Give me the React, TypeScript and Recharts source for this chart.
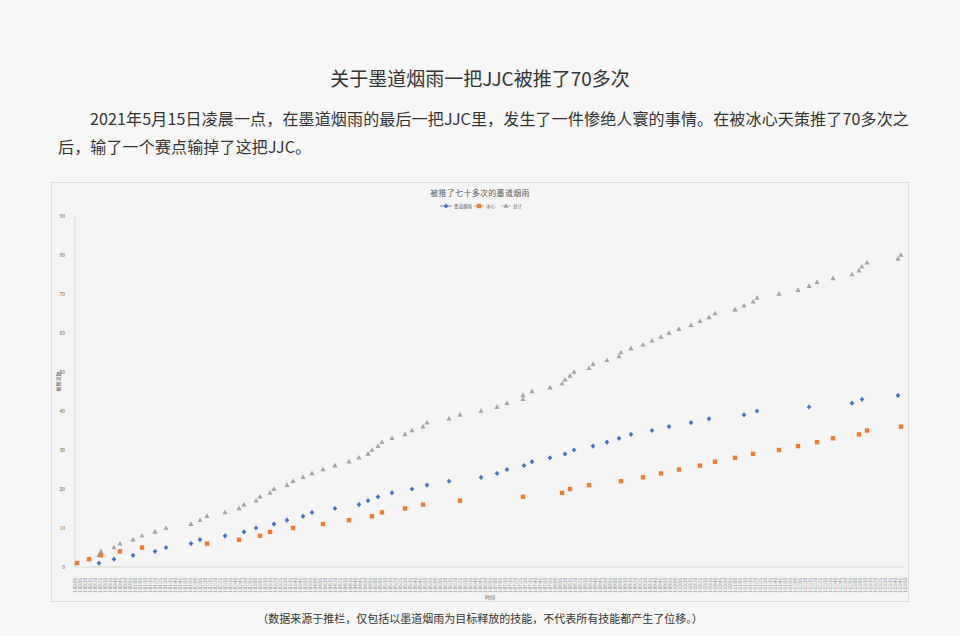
import { Scatter, ScatterChart, XAxis, YAxis } from "recharts";

// series names as shown in the legend
const seriesNames = ["墨道烟雨", "冰心", "总计"];

// event times (seconds since 1:00:00) and cumulative counts
const moTimes = [24, 39, 58, 80, 91, 116, 125, 150, 169, 181, 199, 212, 228, 237, 260, 284, 293, 303, 317, 337, 352, 374, 406, 422, 432, 449, 457, 475, 490, 499, 518, 532, 544, 556, 577, 594, 616, 634, 669, 682, 734, 777, 787, 823];
const moCounts = [1, 2, 3, 4, 5, 6, 7, 8, 9, 10, 11, 12, 13, 14, 15, 16, 17, 18, 19, 20, 21, 22, 23, 24, 25, 26, 27, 28, 29, 30, 31, 32, 33, 34, 35, 36, 37, 38, 39, 40, 41, 42, 43, 44];

const bxTimes = [2, 14, 26, 45, 67, 132, 164, 185, 195, 218, 248, 274, 297, 307, 330, 348, 385, 448, 487, 495, 514, 546, 568, 586, 604, 625, 640, 660, 678, 704, 723, 742, 758, 784, 792, 826];
const bxCounts = [1, 2, 3, 4, 5, 6, 7, 8, 9, 10, 11, 12, 13, 14, 15, 16, 17, 18, 19, 20, 21, 22, 23, 24, 25, 26, 27, 28, 29, 30, 31, 32, 33, 34, 35, 36];

const totalTimes = [2, 14, 24, 26, 39, 45, 58, 67, 80, 91, 116, 125, 132, 150, 164, 169, 181, 185, 195, 199, 212, 218, 228, 237, 248, 260, 274, 284, 293, 297, 303, 307, 317, 330, 337, 348, 352, 374, 385, 406, 422, 432, 448, 448, 457, 475, 487, 490, 495, 499, 514, 518, 532, 544, 546, 556, 568, 577, 586, 594, 604, 616, 625, 634, 640, 660, 669, 678, 682, 704, 723, 734, 742, 758, 777, 784, 787, 792, 823, 826];
const totalCounts = [1, 2, 3, 4, 5, 6, 7, 8, 9, 10, 11, 12, 13, 14, 15, 16, 17, 18, 19, 20, 21, 22, 23, 24, 25, 26, 27, 28, 29, 30, 31, 32, 33, 34, 35, 36, 37, 38, 39, 40, 41, 42, 43, 44, 45, 46, 47, 48, 49, 50, 51, 52, 53, 54, 55, 56, 57, 58, 59, 60, 61, 62, 63, 64, 65, 66, 67, 68, 69, 70, 71, 72, 73, 74, 75, 76, 77, 78, 79, 80];

const yTicks = [0, 10, 20, 30, 40, 50, 60, 70, 80, 90];
const xTicks = Array.from({ length: 167 }, (_, i) => i * 5);

const BLUE = "#4472c4";
const ORANGE = "#ed7d31";
const GRAY = "#a5a5a5";
const FONT = '"Noto Sans CJK SC", "Noto Sans", sans-serif';

const toPoints = (times: number[], counts: number[]) => times.map((t, i) => ({ t, v: counts[i] }));

const fmtTime = (s: number) => {
	const m = Math.floor(s / 60);
	const ss = s % 60;
	return `1:${String(m).padStart(2, "0")}:${String(ss).padStart(2, "0")}`;
};

const Diamond = (props: any) => {
	const { cx, cy } = props;
	return <polygon points={`${cx},${cy - 2.6} ${cx + 2.3},${cy} ${cx},${cy + 2.6} ${cx - 2.3},${cy}`} fill={BLUE} />;
};

const Square = (props: any) => {
	const { cx, cy } = props;
	return <rect x={cx - 2.2} y={cy - 2.2} width={4.4} height={4.4} fill={ORANGE} />;
};

const Triangle = (props: any) => {
	const { cx, cy } = props;
	return <polygon points={`${cx},${cy - 2.8} ${cx + 2.6},${cy + 1.8} ${cx - 2.6},${cy + 1.8}`} fill={GRAY} />;
};

const TimeTick = (props: any) => {
	const { x, y, payload } = props;
	return (
		<text
			x={0}
			y={0}
			transform={`translate(${x},${y + 3}) rotate(-90)`}
			textAnchor="end"
			dominantBaseline="central"
			fontSize={4.5}
			fill="#8c8c8c"
		>
			{fmtTime(payload.value)}
		</text>
	);
};

// legend in the chart frame, drawn in svg so the tiny text is kept
const ChartLegend = () => {
	const items = [
		{ name: seriesNames[0], color: BLUE, x: 388, w: 12 },
		{ name: seriesNames[1], color: ORANGE, x: 422, w: 10 },
		{ name: seriesNames[2], color: GRAY, x: 449, w: 10 },
	];
	const y = 23;
	return (
		<svg width={856} height={40} style={{ position: "absolute", left: 0, top: 0 }}>
			{items.map((it, i) => {
				const mx = it.x + it.w / 2;
				return (
					<g key={it.name}>
						<line x1={it.x} x2={it.x + it.w} y1={y} y2={y} stroke={it.color} strokeWidth={0.8} />
						{i === 0 && <Diamond cx={mx} cy={y} />}
						{i === 1 && <Square cx={mx} cy={y} />}
						{i === 2 && <Triangle cx={mx} cy={y} />}
						<text x={it.x + it.w + 2} y={y} dominantBaseline="central" fontSize={4.5} fill="#595959" fontFamily={FONT}>
							{it.name}
						</text>
					</g>
				);
			})}
		</svg>
	);
};

const App = () => {
	return (
		<div
			style={{
				position: "absolute",
				left: 0,
				top: 0,
				width: 960,
				height: 636,
				background: "#f7f7f7",
				overflow: "hidden",
				fontFamily: FONT,
				color: "#333",
			}}
		>
			<div style={{ position: "absolute", top: 65, left: 0, width: 960, textAlign: "center", fontSize: 19, lineHeight: "26px" }}>
				关于墨道烟雨一把JJC被推了70多次
			</div>
			<div style={{ position: "absolute", top: 104, left: 90, fontSize: 16, lineHeight: "28px", whiteSpace: "nowrap", letterSpacing: 0.15 }}>
				2021年5月15日凌晨一点，在墨道烟雨的最后一把JJC里，发生了一件惨绝人寰的事情。在被冰心天策推了70多次之
			</div>
			<div style={{ position: "absolute", top: 132, left: 58, fontSize: 16, lineHeight: "28px", whiteSpace: "nowrap", letterSpacing: 0.15 }}>
				后，输了一个赛点输掉了这把JJC。
			</div>

			<div
				style={{
					position: "absolute",
					left: 52,
					top: 183,
					width: 856,
					height: 418,
					background: "#f5f5f5",
					outline: "1px solid #dedede",
				}}
			>
				<div
					style={{
						position: "absolute",
						top: 4,
						left: 0,
						width: 856,
						textAlign: "center",
						fontSize: 8,
						lineHeight: "12px",
						letterSpacing: 0.3,
						color: "#595959",
					}}
				>
					被推了七十多次的墨道烟雨
				</div>
				<ChartLegend />
				<ScatterChart width={856} height={418} margin={{ top: 33, right: 3, bottom: 0, left: 0 }} style={{ fontFamily: FONT }}>
					<XAxis
						type="number"
						dataKey="t"
						domain={[0, 830]}
						ticks={xTicks}
						interval={0}
						tick={<TimeTick />}
						tickLine={false}
						axisLine={{ stroke: "#d9d9d9" }}
						height={34}
						label={{ value: "时间", position: "insideBottom", offset: 2, fontSize: 5, fill: "#595959" }}
					/>
					<YAxis
						type="number"
						dataKey="v"
						domain={[0, 90]}
						ticks={yTicks}
						interval={0}
						width={23}
						tickLine={false}
						axisLine={{ stroke: "#d9d9d9" }}
						tick={{ fontSize: 5, fill: "#595959" }}
						tickMargin={4}
						label={{ value: "被推次数", angle: -90, position: "insideLeft", offset: 6, fontSize: 5, fill: "#595959" }}
					/>
					<Scatter name={seriesNames[2]} data={toPoints(totalTimes, totalCounts)} shape={<Triangle />} isAnimationActive={false} />
					<Scatter name={seriesNames[1]} data={toPoints(bxTimes, bxCounts)} shape={<Square />} isAnimationActive={false} />
					<Scatter name={seriesNames[0]} data={toPoints(moTimes, moCounts)} shape={<Diamond />} isAnimationActive={false} />
				</ScatterChart>
			</div>

			<div style={{ position: "absolute", top: 610, left: 0, width: 960, textAlign: "center", fontSize: 11, lineHeight: "16px" }}>
				（数据来源于推栏，仅包括以墨道烟雨为目标释放的技能，不代表所有技能都产生了位移。）
			</div>
		</div>
	);
};

export default App;
